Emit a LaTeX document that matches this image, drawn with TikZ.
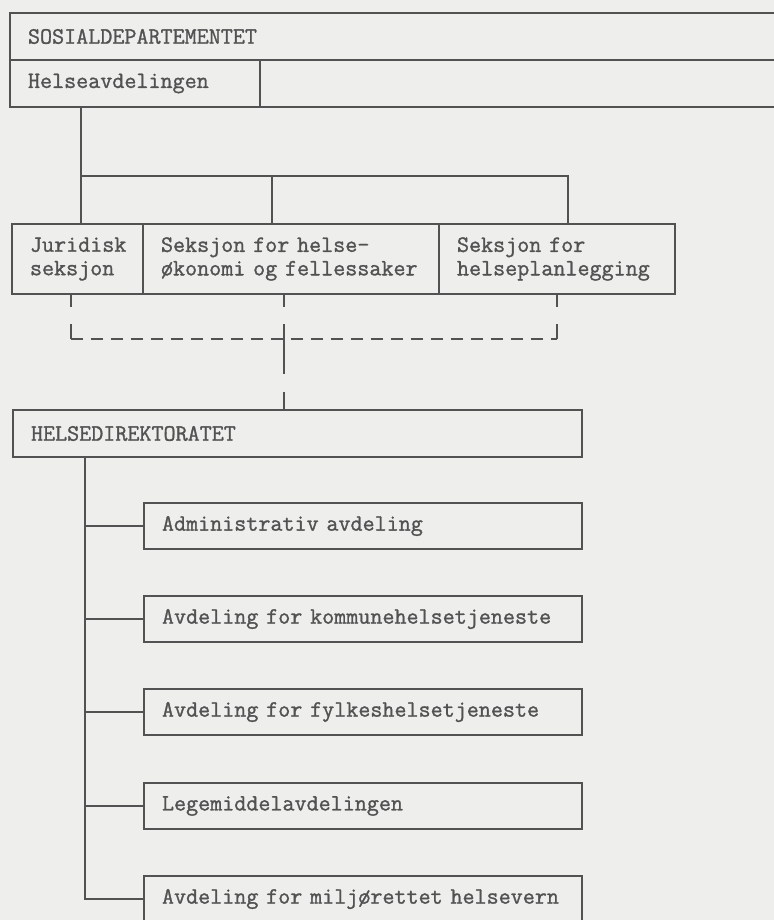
\documentclass[tikz,border=0pt]{standalone}
\usepackage{fontspec}
\newfontfamily\typewriter[FakeBold=1.2]{Latin Modern Mono}
\definecolor{ink}{RGB}{82,82,82}
\definecolor{paper}{RGB}{238,238,236}

\begin{document}
\begin{tikzpicture}[x=0.5pt,y=-0.5pt]
\tikzset{
  orgbox/.style={draw=ink,line width=1pt,rectangle,anchor=north west,inner xsep=9pt,inner ysep=0pt,
    align=left,text=ink,font=\typewriter\fontsize{11.7pt}{11.75pt}\selectfont},
  orgline/.style={draw=ink,line width=1pt},
  dashstub/.style={orgline,dash pattern=on 6pt off 8.5pt on 8.5pt},
  coopline/.style={orgline,dash pattern=on 6pt off 4pt},
  midline/.style={orgline,dash pattern=on 6pt off 8.5pt on 25pt off 9pt on 9.5pt}
}
\useasboundingbox (0,0) rectangle (774,920);
\fill[paper] (0,0) rectangle (774,920);
\clip (0,0) rectangle (774,920);
\node[orgbox,text width=372.5pt,minimum height=23.5pt] (sosdep) at (9,12) {SOSIALDEPARTEMENTET};
\node[orgbox,text width=107pt,minimum height=23.5pt] (helseavd) at (9,59) {Helseavdelingen};
\node[orgbox,text width=247.5pt,minimum height=23.5pt] (helserest) at (259,59) {};
\node[orgbox,text width=47.5pt,minimum height=35pt] (jur) at (11,223) {Juridisk\\seksjon};
\node[orgbox,text width=130pt,minimum height=35pt] (oko) at (142,223) {Seksjon for helse-\\økonomi og fellessaker};
\node[orgbox,text width=100pt,minimum height=35pt] (plan) at (438,223) {Seksjon for\\helseplanlegging};
\node[orgbox,text width=266.5pt,minimum height=23.5pt] (dir) at (12,409) {HELSEDIREKTORATET};
\node[orgbox,text width=201pt,minimum height=23pt] (u1) at (143,502) {Administrativ avdeling};
\node[orgbox,text width=201pt,minimum height=23pt] (u2) at (143,595) {Avdeling for kommunehelsetjeneste};
\node[orgbox,text width=201pt,minimum height=23pt] (u3) at (143,688) {Avdeling for fylkeshelsetjeneste};
\node[orgbox,text width=201pt,minimum height=23pt] (u4) at (143,782) {Legemiddelavdelingen};
\node[orgbox,text width=201pt,minimum height=23pt] (u5) at (143,875) {Avdeling for miljørettet helsevern};
% departement to sections
\coordinate (bus) at (81,176);
\coordinate (busM) at (272,176);
\coordinate (busR) at (568,176);
\draw[orgline] (helseavd.south -| bus) -- (bus |- jur.north);
\draw[orgline] (bus) -- (busR) -- (busR |- plan.north);
\draw[orgline] (busM) -- (busM |- oko.north);
% sections to directorate
\coordinate (coL) at (71,339);
\coordinate (coM) at (284,339);
\coordinate (coR) at (557,339);
\draw[dashstub] (coL |- jur.south) -- (coL);
\draw[dashstub] (coR |- plan.south) -- (coR);
\draw[coopline] (coL) -- (coR);
\draw[midline] (coM |- oko.south) -- (coM |- dir.north);
% directorate to departments
\coordinate (trunk) at (85,457);
\draw[orgline] (dir.south -| trunk) -- (trunk |- u5.west) -- (u5.west);
\draw[orgline] (trunk |- u1.west) -- (u1.west);
\draw[orgline] (trunk |- u2.west) -- (u2.west);
\draw[orgline] (trunk |- u3.west) -- (u3.west);
\draw[orgline] (trunk |- u4.west) -- (u4.west);
\end{tikzpicture}
\end{document}
